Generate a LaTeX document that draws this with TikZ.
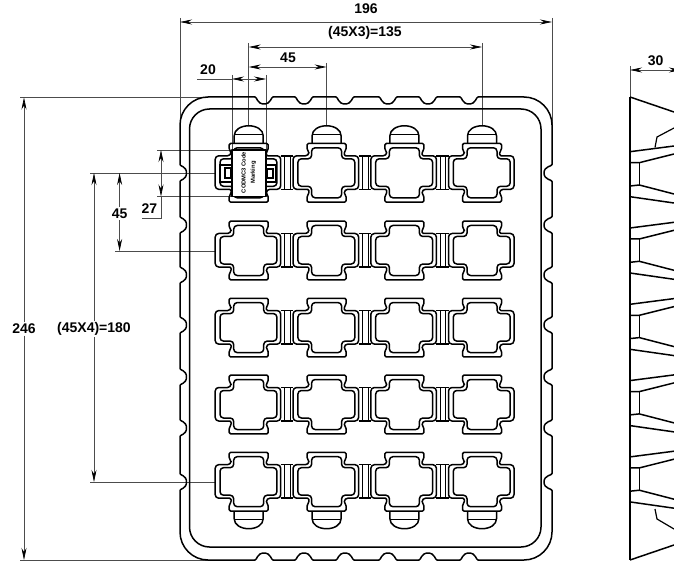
\documentclass[tikz,border=0pt]{standalone}
\usepackage{fontspec}
\setmainfont{Liberation Sans}
\usetikzlibrary{arrows.meta}

\begin{document}
\begin{tikzpicture}[x=1pt,y=-1pt,
    traypart/.style={draw=black,line width=1.5pt,line join=round},
    thinpart/.style={draw=black,line width=0.8pt},
    dimline/.style={draw=black!70,line width=0.7pt},
    dimtip/.style={{Stealth[length=12pt,width=5pt,black]}-{Stealth[length=12pt,width=5pt,black]}},
    endtip/.style={-{Stealth[length=12pt,width=5pt,black]}},
    dimtext/.style={font=\fontsize{14}{14}\bfseries\selectfont,inner sep=1.5pt},
    pocket/.pic={
      \draw[traypart,rounded corners=1.3pt] (-19.5,-29.3) -- (19.5,-29.3) -- (19.5,-23) -- (17.7,-21) -- (17.7,-17) [rounded corners=3.5pt] -- (32,-17) -- (32,16.5) -- (17.7,16.5) [rounded corners=1.3pt] -- (17.7,21) -- (19.5,23) -- (19.5,29.3) -- (-19.5,29.3) -- (-19.5,23) -- (-17.7,21) -- (-17.7,16.5) [rounded corners=3.5pt] -- (-33.5,16.5) -- (-33.5,-17) -- (-17.7,-17) [rounded corners=1.3pt] -- (-17.7,-21) -- (-19.5,-23) -- cycle;
      \draw[traypart,rounded corners=3.5pt] (-15,-25) -- (15,-25) -- (15,-14) -- (28.2,-14) -- (28.2,13.5) -- (15,13.5) -- (15,25) -- (-15,25) -- (-15,13.5) -- (-28.7,13.5) -- (-28.7,-14) -- (-15,-14) -- cycle;
    },
    dome/.pic={
      \draw[traypart] (-14.5,-29.3) -- (-14.5,-37) .. controls (-14.5,-43) and (-8,-47) .. (0,-47) .. controls (8,-47) and (14.5,-43) .. (14.5,-37) -- (14.5,-29.3);
      \draw[thinpart] (-14.5,-38) -- (14.5,-38);
    },
    strip/.pic={
      \draw[traypart] (32,-17) -- (44.5,-17) (32,16.5) -- (44.5,16.5);
      \draw[thinpart] (36,-17) -- (36,16.5) (41.3,-17) -- (41.3,16.5);
    }]
  \path[use as bounding box,clip] (0,0) rectangle (674,561);

  % extension lines
  \draw[dimline] (180,18) -- (180,125) (552,18) -- (552,125);
  \draw[dimline] (248.7,43) -- (248.7,126) (482,43) -- (482,126) (326.6,63) -- (326.6,126);
  \draw[dimline] (232,75) -- (232,150) (266,75) -- (266,150);
  \draw[dimline] (20,97.5) -- (208,97.5) (20,560) -- (208,560);
  \draw[dimline] (90,173) -- (216,173) (115,251) -- (216,251) (90,482) -- (216,482);
  \draw[dimline] (157,150) -- (232,150) (157,196.5) -- (232,196.5);
  \draw[dimline] (630,66) -- (630,97);

  % tray outline
  \draw[traypart] (180,125) .. controls (180,109.6) and (192.6,97) .. (208,97)
    \foreach \n in {264,304,345,388,428,469} {
      -- (\n-9,97) .. controls (\n-7,97) and (\n-7,104) .. (\n,104) .. controls (\n+7,104) and (\n+7,97) .. (\n+9,97)
    }
    -- (524,97) .. controls (539.4,97) and (552,109.6) .. (552,125)
    \foreach \n in {173,225,275,325,377,428,482} {
      -- (552,\n-8.5) .. controls (552,\n-6.5) and (544,\n-7) .. (544,\n) .. controls (544,\n+7) and (552,\n+6.5) .. (552,\n+8.5)
    }
    -- (552,532) .. controls (552,547.4) and (539.4,560) .. (524,560)
    \foreach \n in {469,428,388,345,304,264} {
      -- (\n+9,560) .. controls (\n+7,560) and (\n+7,553) .. (\n,553) .. controls (\n-7,553) and (\n-7,560) .. (\n-9,560)
    }
    -- (208,560) .. controls (192.6,560) and (180,547.4) .. (180,532)
    \foreach \n in {482,428,377,325,275,225,173} {
      -- (180,\n+8.5) .. controls (180,\n+6.5) and (186.5,\n+7) .. (186.5,\n) .. controls (186.5,\n-7) and (180,\n-6.5) .. (180,\n-8.5)
    }
    -- cycle;
  \draw[traypart,rounded corners=20pt] (189.5,109) rectangle (541,547);

  % pockets
  \foreach \c in {248.7,326.6,404.4,482} {
    \foreach \r in {172.8,250.5,327.6,404.5,481.7} {
      \pic at (\c,\r) {pocket};
    }
    \pic at (\c,172.8) {dome};
    \pic[yscale=-1] at (\c,481.7) {dome};
  }
  \foreach \c in {248.7,326.6,404.4} {
    \foreach \r in {172.8,250.5,327.6,404.5,481.7} {
      \pic at (\c,\r) {strip};
    }
  }

  % label on the first pocket
  \draw[thinpart,line width=1.2pt,fill=white] (220,165) rectangle (232,182) (225,168) rectangle (231,178);
  \draw[thinpart,line width=1.2pt,fill=white] (266,165) rectangle (276,182) (267,169) rectangle (273,178);
  \draw[traypart,fill=white] (232,150) rectangle (266,196.5);
  \node[rotate=90,font=\fontsize{5.8}{6}\bfseries\selectfont,inner sep=0pt] (code) at (243.5,172.5) {CODMC3 Code};
  \node[rotate=90,font=\fontsize{5.8}{6}\bfseries\selectfont,inner sep=0pt] (marking) at (253.5,172.5) {Marking};

  % side view
  \draw[traypart] (630,97) -- (630,560);
  \draw[traypart] (630,97) -- (674,112);
  \draw[traypart] (630,560) -- (674,545);
  \draw[thinpart,line width=1.2pt] (655,147.5) -- (657,137) -- (674,128);
  \draw[thinpart,line width=1.2pt] (655,509) -- (657,519) -- (674,529);
  \foreach \i in {0,...,4} {
    \pgfmathsetmacro{\s}{76.3*\i}
    \draw[traypart,yshift=-\s pt] (630,151.7) -- (674,146);
    \draw[traypart,yshift=-\s pt] (630,162.7) -- (639.3,162.7) -- (674,154);
    \draw[traypart,yshift=-\s pt] (639.3,162.7) -- (639.3,185);
    \draw[traypart,yshift=-\s pt] (630,186) -- (639.3,185) -- (674,194);
    \draw[traypart,yshift=-\s pt] (630,196.7) -- (674,203);
  }

  % dimensions
  \coordinate (w0) at (180,22);
  \coordinate (w1) at (552,22);
  \node[dimtext] (w) at (366,9) {196};
  \draw[dimline,dimtip] (w0) -- (w1);
  \coordinate (p0) at (248.7,47);
  \coordinate (p1) at (482,47);
  \node[dimtext] (pitchx) at (365,33) {(45X3)=135};
  \draw[dimline,dimtip] (p0) -- (p1);
  \coordinate (q0) at (248.7,67);
  \coordinate (q1) at (326.6,67);
  \node[dimtext] (q) at (288,58) {45};
  \draw[dimline,dimtip] (q0) -- (q1);
  \coordinate (l0) at (232,79);
  \coordinate (l1) at (266,79);
  \coordinate (l2) at (197,79);
  \node[dimtext] (l) at (208,70) {20};
  \draw[dimline,dimtip] (l0) -- (l1);
  \draw[dimline] (l2) -- (l0);
  \coordinate (h0) at (24,97.5);
  \coordinate (h1) at (24,560);
  \node[dimtext,fill=white] (h) at (24,329) {246};
  \draw[dimline,endtip] (h) -- (h0);
  \draw[dimline,endtip] (h) -- (h1);
  \coordinate (r0) at (94,173);
  \coordinate (r1) at (94,482);
  \node[dimtext,fill=white] (pitchy) at (94,329) {(45X4)=180};
  \draw[dimline,endtip] (pitchy) -- (r0);
  \draw[dimline,endtip] (pitchy) -- (r1);
  \coordinate (s0) at (119.6,173);
  \coordinate (s1) at (119.6,251);
  \node[dimtext,fill=white] (s) at (119.6,213.5) {45};
  \draw[dimline,endtip] (s) -- (s0);
  \draw[dimline,endtip] (s) -- (s1);
  \coordinate (t0) at (161,150);
  \coordinate (t1) at (161,196.5);
  \coordinate (t2) at (161,218);
  \coordinate (t3) at (142,218);
  \node[dimtext] (t) at (149.5,209) {27};
  \draw[dimline,dimtip] (t0) -- (t1);
  \draw[dimline] (t1) -- (t2) -- (t3);
  \coordinate (d0) at (630,70);
  \coordinate (d1) at (681,70);
  \node[dimtext] (d) at (655.7,61) {30};
  \draw[dimline,dimtip] (d0) -- (d1);
\end{tikzpicture}
\end{document}
